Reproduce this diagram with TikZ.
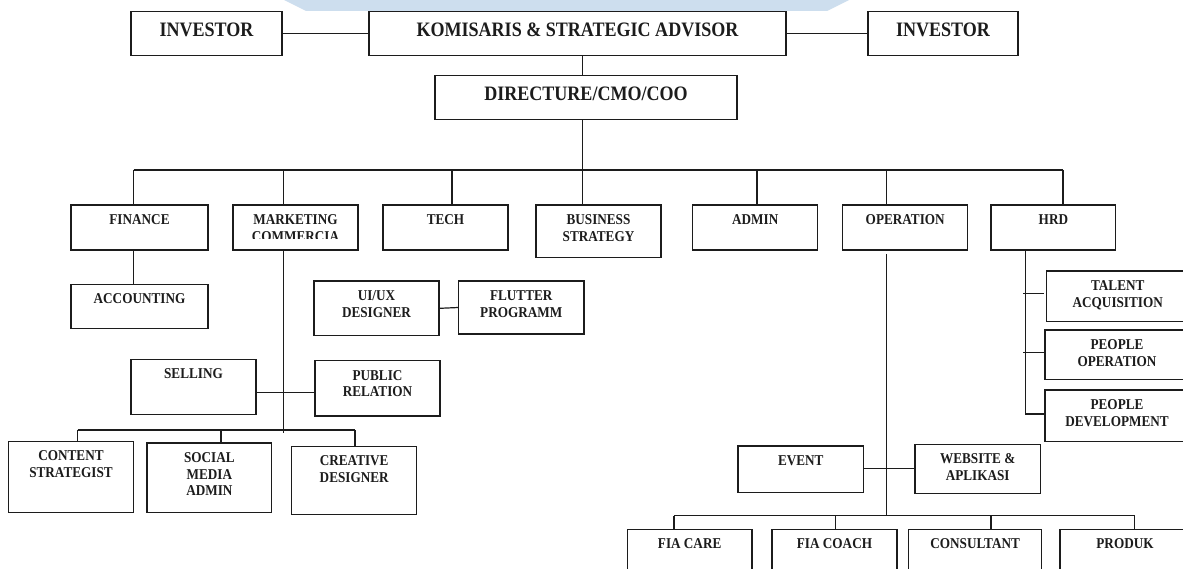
\documentclass[tikz,border=0pt]{standalone}
\usepackage{fontspec}
\setmainfont{Liberation Serif}[FakeStretch=0.88]
\definecolor{wmblue}{RGB}{205,222,238}
\definecolor{ink}{RGB}{28,28,28}
\newcommand\fsA{\fontsize{20.5}{24}\selectfont}
\newcommand\fsB{\fontsize{15}{16.5}\selectfont}
% name, x1, y1, x2, y2, size, text
\newcommand\obox[7]{%
  \node[box, minimum width={#4-#2}, minimum height={#5-#3}] (#1) at ({(#2+#4)/2},{(#3+#5)/2}) {};
  \node[lbl] (#1-t) at ([yshift=-7.8pt]#1.north) {#6\begin{tabular}{@{}c@{}}#7\end{tabular}};
}
\tikzset{
  box/.style={draw=ink, line width=1.2pt, rectangle, inner sep=0pt, outer sep=0pt, fill=white},
  lbl/.style={anchor=north, inner sep=0pt, text=ink, font=\bfseries},
  conn/.style={draw=ink, line width=1.2pt},
}
\begin{document}
\begin{tikzpicture}[x=1pt,y=-1pt]
\clip (0,0) rectangle (1183,569);
\fill[white] (0,0) rectangle (1183,569);
\fill[wmblue] (284,0) -- (849,0) -- (827,11) -- (306,11) -- cycle;

% top
\obox{invL}{131}{11.7}{282}{55.3}{\fsA}{INVESTOR}
\obox{kom}{369}{11.7}{786}{55.3}{\fsA}{KOMISARIS \& STRATEGIC ADVISOR}
\obox{invR}{868}{11.7}{1018}{55.3}{\fsA}{INVESTOR}
\obox{dir}{435}{75.3}{737}{119.3}{\fsA}{DIRECTURE/CMO/COO}

% departments
\obox{fin}{71}{205}{208}{250}{\fsB}{FINANCE}
\node[box, minimum width=125, minimum height=45] (mkt) at (295.5,227.5) {};
\begin{scope}
  \clip (234,206) rectangle (357,238.3);
  \node[lbl] (mkt-t) at ([yshift=-7.8pt]mkt.north) {\fsB\begin{tabular}{@{}c@{}}MARKETING\\COMMERCIA\end{tabular}};
\end{scope}
\obox{tech}{383}{205}{508}{250}{\fsB}{TECH}
\obox{bus}{536}{205}{661}{257.7}{\fsB}{BUSINESS\\STRATEGY}
\obox{adm}{692.7}{205}{817.7}{250}{\fsB}{ADMIN}
\obox{ops}{842.7}{205}{967.7}{250}{\fsB}{OPERATION}
\obox{hrd}{991}{205}{1115.8}{250}{\fsB}{HRD}

% finance / tech
\obox{acc}{71}{284.3}{208}{328.7}{\fsB}{ACCOUNTING}
\obox{uiux}{314}{281}{439}{335.7}{\fsB}{UI/UX\\DESIGNER}
\obox{flut}{458.5}{281}{584}{334}{\fsB}{FLUTTER\\PROGRAMM}

% marketing
\obox{sell}{131}{359.3}{256}{414.3}{\fsB}{SELLING}
\obox{pr}{315}{360.7}{440}{416}{\fsB}{PUBLIC\\RELATION}
\obox{cs}{8.4}{441.3}{133.6}{512.7}{\fsB}{CONTENT\\STRATEGIST}
\obox{sma}{147}{443}{271.7}{512.7}{\fsB}{SOCIAL\\MEDIA\\ADMIN}
\obox{cd}{291.6}{446.3}{416.8}{514.3}{\fsB}{CREATIVE\\DESIGNER}

% hrd
\obox{tal}{1046.5}{271}{1189}{321.7}{\fsB}{TALENT\\ACQUISITION}
\obox{pop}{1045}{330}{1189}{379.3}{\fsB}{PEOPLE\\OPERATION}
\obox{pdev}{1045}{390}{1189}{441.7}{\fsB}{PEOPLE\\DEVELOPMENT}

% operation
\obox{evt}{738}{446}{863.5}{492.3}{\fsB}{EVENT}
\obox{web}{915}{444.3}{1040.4}{493.7}{\fsB}{WEBSITE \&\\APLIKASI}
\obox{fcare}{627.3}{529.3}{752}{600}{\fsB}{FIA CARE}
\obox{fcoach}{772}{529.3}{897}{600}{\fsB}{FIA COACH}
\obox{cons}{908.8}{529.3}{1041.5}{600}{\fsB}{CONSULTANT}
\obox{prod}{1060}{529.3}{1190}{600}{\fsB}{PRODUK}

% connectors: top
\coordinate (tx) at (582.5,0);
\draw[conn] (invL.east) -- (kom.west);
\draw[conn] (kom.east) -- (invR.west);
\draw[conn] (kom.south -| tx) -- (dir.north -| tx);
\draw[conn] (dir.south -| tx) -- (bus.north -| tx);

% department bus
\coordinate (b1) at (133.6,170);
\coordinate (b2) at (283.6,170);
\coordinate (b3) at (452,170);
\coordinate (b5) at (757,170);
\coordinate (b6) at (886.5,170);
\coordinate (b7) at (1063,170);
\draw[conn] (b1) -- (b7);
\foreach \c/\n in {b1/fin,b2/mkt,b3/tech,b5/adm,b6/ops,b7/hrd}
  \draw[conn] (\c) -- (\c |- \n.north);

\draw[conn] (fin.south -| b1) -- (acc.north -| b1);
\draw[conn] (uiux.east) -- (flut.west);

% marketing tree
\coordinate (mend) at (283.6,433.3);
\draw[conn] (mkt.south -| mend) -- (mend);
\coordinate (sp) at (283.6,392.7);
\draw[conn] (sell.east |- sp) -- (pr.west |- sp);
\coordinate (mb1) at (77.7,430);
\coordinate (mb2) at (221,430);
\coordinate (mb3) at (355,430);
\draw[conn] (mb1) -- (mb3);
\draw[conn] (mb1) -- (mb1 |- cs.north);
\draw[conn] (mb2) -- (mb2 |- sma.north);
\draw[conn] (mb3) -- (mb3 |- cd.north);

% hrd tree
\coordinate (h0) at (1025.4,414);
\draw[conn] (hrd.south -| h0) -- (h0) -- (pdev.west |- h0);
\coordinate (t1) at (1023,293.3);
\coordinate (t2) at (1023,352.3);
\draw[conn, shorten >=2.5pt] (t1) -- (tal.west |- t1);
\draw[conn, shorten >=1.5pt] (t2) -- (pop.west |- t2);

% operation tree
\coordinate (ob) at (886.5,515.7);
\draw[conn, shorten <=4pt] (ops.south -| ob) -- (ob);
\coordinate (ev) at (886.5,468.7);
\draw[conn] (evt.east |- ev) -- (web.west |- ev);
\coordinate (ob1) at (674,515.7);
\coordinate (ob2) at (835.8,515.7);
\coordinate (ob3) at (991,515.7);
\coordinate (ob4) at (1134.6,515.7);
\draw[conn] (ob1) -- (ob4);
\draw[conn] (ob1) -- (ob1 |- fcare.north);
\draw[conn] (ob2) -- (ob2 |- fcoach.north);
\draw[conn] (ob3) -- (ob3 |- cons.north);
\draw[conn] (ob4) -- (ob4 |- prod.north);
\end{tikzpicture}
\end{document}
